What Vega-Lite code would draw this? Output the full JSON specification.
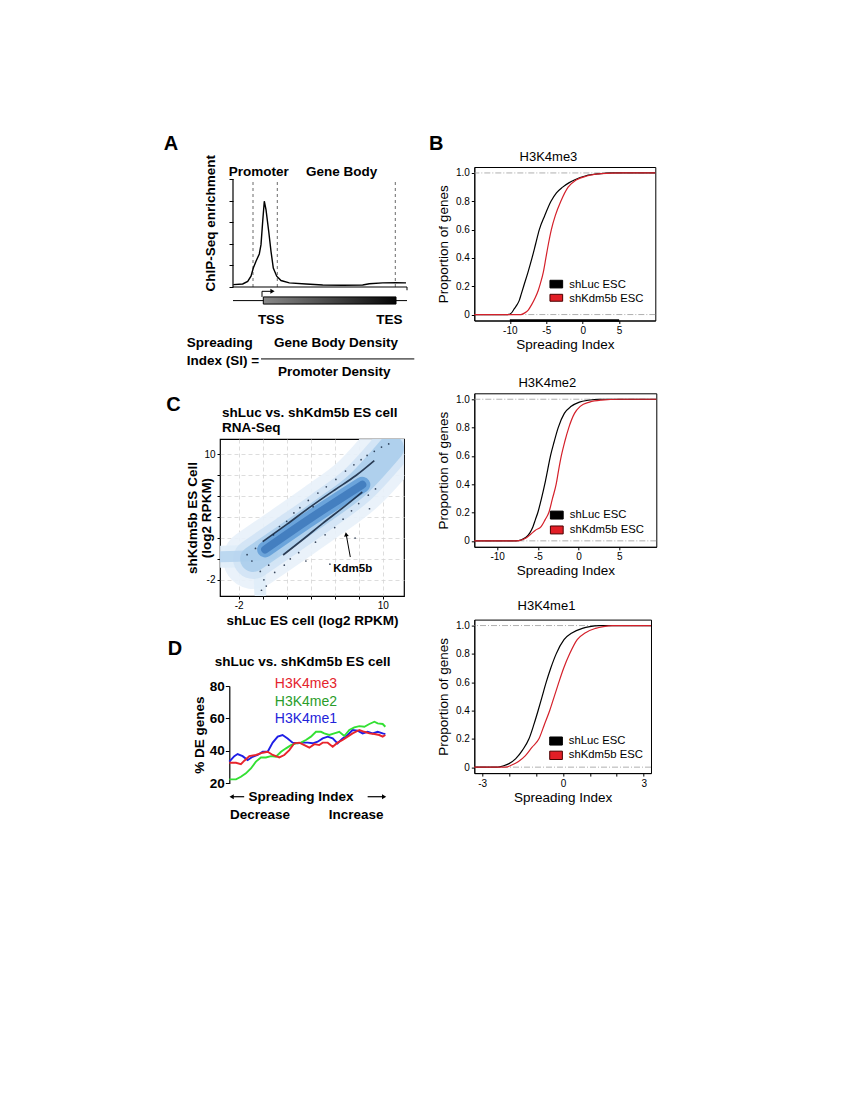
{
"$schema": "https://vega.github.io/schema/vega-lite/v6.json",
"background": "white",
"padding": {"left": 163, "top": 133, "right": 10, "bottom": 10},
"config": {
 "font": "Liberation Sans",
 "view": {"stroke": null},
 "axis": {"grid": false, "labelOverlap": false, "labelColor": "#000", "titleColor": "#000", "tickColor": "#000", "domainColor": "#000", "labelFont": "Liberation Sans", "titleFont": "Liberation Sans", "tickWidth": 1, "domainWidth": 1},
 "text": {"color": "#000", "font": "Liberation Sans"}
},
"datasets": {
 "a_profile": [
  {"pos":0.3,"enrich":0.11},{"pos":9.7,"enrich":0.14},{"pos":14.7,"enrich":0.26},{"pos":18,"enrich":0.5},{"pos":20.3,"enrich":0.88},{"pos":23,"enrich":1.19},{"pos":26.3,"enrich":1.53},{"pos":28,"enrich":1.96},{"pos":29.7,"enrich":3.04},{"pos":31.3,"enrich":3.97},{"pos":33,"enrich":3.58},{"pos":35.7,"enrich":2.58},{"pos":38,"enrich":1.65},{"pos":40.3,"enrich":0.88},{"pos":43.7,"enrich":0.5},{"pos":48,"enrich":0.3},{"pos":56.3,"enrich":0.19},{"pos":73,"enrich":0.14},{"pos":89.7,"enrich":0.09},{"pos":109.7,"enrich":0.08},{"pos":129.7,"enrich":0.09},{"pos":136.3,"enrich":0.15},{"pos":149.7,"enrich":0.19},{"pos":163,"enrich":0.2},{"pos":173,"enrich":0.19}
 ],
 "a_bounds": [{"pos":20},{"pos":44.3},{"pos":162.3}],
 "b_cdf": [
  {"panel":"H3K4me3","sample":"shLuc ESC","si":-14.87,"prop":0},{"panel":"H3K4me3","sample":"shLuc ESC","si":-10.3,"prop":0},{"panel":"H3K4me3","sample":"shLuc ESC","si":-9.8,"prop":0.01},{"panel":"H3K4me3","sample":"shLuc ESC","si":-9.4,"prop":0.04},{"panel":"H3K4me3","sample":"shLuc ESC","si":-9.0,"prop":0.07},{"panel":"H3K4me3","sample":"shLuc ESC","si":-8.7,"prop":0.1},{"panel":"H3K4me3","sample":"shLuc ESC","si":-8.4,"prop":0.15},{"panel":"H3K4me3","sample":"shLuc ESC","si":-8.1,"prop":0.2},{"panel":"H3K4me3","sample":"shLuc ESC","si":-7.5,"prop":0.3},{"panel":"H3K4me3","sample":"shLuc ESC","si":-6.95,"prop":0.4},{"panel":"H3K4me3","sample":"shLuc ESC","si":-6.45,"prop":0.5},{"panel":"H3K4me3","sample":"shLuc ESC","si":-5.95,"prop":0.6},{"panel":"H3K4me3","sample":"shLuc ESC","si":-5.2,"prop":0.7},{"panel":"H3K4me3","sample":"shLuc ESC","si":-4.35,"prop":0.8},{"panel":"H3K4me3","sample":"shLuc ESC","si":-3.6,"prop":0.86},{"panel":"H3K4me3","sample":"shLuc ESC","si":-2.75,"prop":0.9},{"panel":"H3K4me3","sample":"shLuc ESC","si":-1.9,"prop":0.93},{"panel":"H3K4me3","sample":"shLuc ESC","si":-1.15,"prop":0.95},{"panel":"H3K4me3","sample":"shLuc ESC","si":0.45,"prop":0.98},{"panel":"H3K4me3","sample":"shLuc ESC","si":2.2,"prop":0.994},{"panel":"H3K4me3","sample":"shLuc ESC","si":4.1,"prop":1},{"panel":"H3K4me3","sample":"shLuc ESC","si":9.96,"prop":1},
  {"panel":"H3K4me3","sample":"shKdm5b ESC","si":-14.87,"prop":0},{"panel":"H3K4me3","sample":"shKdm5b ESC","si":-8.5,"prop":0},{"panel":"H3K4me3","sample":"shKdm5b ESC","si":-8.0,"prop":0.01},{"panel":"H3K4me3","sample":"shKdm5b ESC","si":-7.5,"prop":0.03},{"panel":"H3K4me3","sample":"shKdm5b ESC","si":-7.0,"prop":0.07},{"panel":"H3K4me3","sample":"shKdm5b ESC","si":-6.5,"prop":0.12},{"panel":"H3K4me3","sample":"shKdm5b ESC","si":-6.1,"prop":0.17},{"panel":"H3K4me3","sample":"shKdm5b ESC","si":-5.8,"prop":0.22},{"panel":"H3K4me3","sample":"shKdm5b ESC","si":-5.4,"prop":0.3},{"panel":"H3K4me3","sample":"shKdm5b ESC","si":-5.05,"prop":0.4},{"panel":"H3K4me3","sample":"shKdm5b ESC","si":-4.7,"prop":0.5},{"panel":"H3K4me3","sample":"shKdm5b ESC","si":-4.3,"prop":0.6},{"panel":"H3K4me3","sample":"shKdm5b ESC","si":-3.75,"prop":0.7},{"panel":"H3K4me3","sample":"shKdm5b ESC","si":-3.0,"prop":0.8},{"panel":"H3K4me3","sample":"shKdm5b ESC","si":-2.0,"prop":0.9},{"panel":"H3K4me3","sample":"shKdm5b ESC","si":-0.9,"prop":0.95},{"panel":"H3K4me3","sample":"shKdm5b ESC","si":0.7,"prop":0.98},{"panel":"H3K4me3","sample":"shKdm5b ESC","si":2.5,"prop":0.995},{"panel":"H3K4me3","sample":"shKdm5b ESC","si":5.5,"prop":1},{"panel":"H3K4me3","sample":"shKdm5b ESC","si":9.96,"prop":1},
  {"panel":"H3K4me2","sample":"shLuc ESC","si":-12.8,"prop":0},{"panel":"H3K4me2","sample":"shLuc ESC","si":-7.7,"prop":0},{"panel":"H3K4me2","sample":"shLuc ESC","si":-7.0,"prop":0.008},{"panel":"H3K4me2","sample":"shLuc ESC","si":-6.45,"prop":0.025},{"panel":"H3K4me2","sample":"shLuc ESC","si":-6.0,"prop":0.055},{"panel":"H3K4me2","sample":"shLuc ESC","si":-5.6,"prop":0.1},{"panel":"H3K4me2","sample":"shLuc ESC","si":-5.3,"prop":0.15},{"panel":"H3K4me2","sample":"shLuc ESC","si":-5.0,"prop":0.2},{"panel":"H3K4me2","sample":"shLuc ESC","si":-4.55,"prop":0.3},{"panel":"H3K4me2","sample":"shLuc ESC","si":-4.15,"prop":0.4},{"panel":"H3K4me2","sample":"shLuc ESC","si":-3.8,"prop":0.5},{"panel":"H3K4me2","sample":"shLuc ESC","si":-3.45,"prop":0.6},{"panel":"H3K4me2","sample":"shLuc ESC","si":-3.0,"prop":0.7},{"panel":"H3K4me2","sample":"shLuc ESC","si":-2.5,"prop":0.8},{"panel":"H3K4me2","sample":"shLuc ESC","si":-1.75,"prop":0.9},{"panel":"H3K4me2","sample":"shLuc ESC","si":-0.9,"prop":0.95},{"panel":"H3K4me2","sample":"shLuc ESC","si":0.1,"prop":0.98},{"panel":"H3K4me2","sample":"shLuc ESC","si":1.2,"prop":0.993},{"panel":"H3K4me2","sample":"shLuc ESC","si":2.6,"prop":1},{"panel":"H3K4me2","sample":"shLuc ESC","si":9.54,"prop":1},
  {"panel":"H3K4me2","sample":"shKdm5b ESC","si":-12.8,"prop":0},{"panel":"H3K4me2","sample":"shKdm5b ESC","si":-7.6,"prop":0},{"panel":"H3K4me2","sample":"shKdm5b ESC","si":-7.0,"prop":0.006},{"panel":"H3K4me2","sample":"shKdm5b ESC","si":-6.45,"prop":0.02},{"panel":"H3K4me2","sample":"shKdm5b ESC","si":-5.9,"prop":0.045},{"panel":"H3K4me2","sample":"shKdm5b ESC","si":-5.3,"prop":0.075},{"panel":"H3K4me2","sample":"shKdm5b ESC","si":-4.6,"prop":0.1},{"panel":"H3K4me2","sample":"shKdm5b ESC","si":-4.1,"prop":0.15},{"panel":"H3K4me2","sample":"shKdm5b ESC","si":-3.65,"prop":0.2},{"panel":"H3K4me2","sample":"shKdm5b ESC","si":-3.2,"prop":0.3},{"panel":"H3K4me2","sample":"shKdm5b ESC","si":-2.75,"prop":0.4},{"panel":"H3K4me2","sample":"shKdm5b ESC","si":-2.45,"prop":0.5},{"panel":"H3K4me2","sample":"shKdm5b ESC","si":-2.12,"prop":0.6},{"panel":"H3K4me2","sample":"shKdm5b ESC","si":-1.7,"prop":0.7},{"panel":"H3K4me2","sample":"shKdm5b ESC","si":-1.2,"prop":0.8},{"panel":"H3K4me2","sample":"shKdm5b ESC","si":-0.5,"prop":0.9},{"panel":"H3K4me2","sample":"shKdm5b ESC","si":0.2,"prop":0.95},{"panel":"H3K4me2","sample":"shKdm5b ESC","si":1.35,"prop":0.98},{"panel":"H3K4me2","sample":"shKdm5b ESC","si":2.8,"prop":0.994},{"panel":"H3K4me2","sample":"shKdm5b ESC","si":5.0,"prop":1},{"panel":"H3K4me2","sample":"shKdm5b ESC","si":9.54,"prop":1},
  {"panel":"H3K4me1","sample":"shLuc ESC","si":-3.29,"prop":0},{"panel":"H3K4me1","sample":"shLuc ESC","si":-2.43,"prop":0},{"panel":"H3K4me1","sample":"shLuc ESC","si":-2.2,"prop":0.01},{"panel":"H3K4me1","sample":"shLuc ESC","si":-2.0,"prop":0.025},{"panel":"H3K4me1","sample":"shLuc ESC","si":-1.75,"prop":0.06},{"panel":"H3K4me1","sample":"shLuc ESC","si":-1.5,"prop":0.12},{"panel":"H3K4me1","sample":"shLuc ESC","si":-1.26,"prop":0.2},{"panel":"H3K4me1","sample":"shLuc ESC","si":-1.08,"prop":0.3},{"panel":"H3K4me1","sample":"shLuc ESC","si":-0.92,"prop":0.4},{"panel":"H3K4me1","sample":"shLuc ESC","si":-0.77,"prop":0.5},{"panel":"H3K4me1","sample":"shLuc ESC","si":-0.62,"prop":0.6},{"panel":"H3K4me1","sample":"shLuc ESC","si":-0.45,"prop":0.7},{"panel":"H3K4me1","sample":"shLuc ESC","si":-0.25,"prop":0.8},{"panel":"H3K4me1","sample":"shLuc ESC","si":0.04,"prop":0.9},{"panel":"H3K4me1","sample":"shLuc ESC","si":0.35,"prop":0.95},{"panel":"H3K4me1","sample":"shLuc ESC","si":0.72,"prop":0.98},{"panel":"H3K4me1","sample":"shLuc ESC","si":1.0,"prop":0.993},{"panel":"H3K4me1","sample":"shLuc ESC","si":1.35,"prop":1},{"panel":"H3K4me1","sample":"shLuc ESC","si":3.27,"prop":1},
  {"panel":"H3K4me1","sample":"shKdm5b ESC","si":-3.29,"prop":0},{"panel":"H3K4me1","sample":"shKdm5b ESC","si":-2.12,"prop":0},{"panel":"H3K4me1","sample":"shKdm5b ESC","si":-1.9,"prop":0.015},{"panel":"H3K4me1","sample":"shKdm5b ESC","si":-1.65,"prop":0.04},{"panel":"H3K4me1","sample":"shKdm5b ESC","si":-1.4,"prop":0.08},{"panel":"H3K4me1","sample":"shKdm5b ESC","si":-1.15,"prop":0.14},{"panel":"H3K4me1","sample":"shKdm5b ESC","si":-0.89,"prop":0.2},{"panel":"H3K4me1","sample":"shKdm5b ESC","si":-0.69,"prop":0.3},{"panel":"H3K4me1","sample":"shKdm5b ESC","si":-0.49,"prop":0.4},{"panel":"H3K4me1","sample":"shKdm5b ESC","si":-0.32,"prop":0.5},{"panel":"H3K4me1","sample":"shKdm5b ESC","si":-0.15,"prop":0.6},{"panel":"H3K4me1","sample":"shKdm5b ESC","si":0.03,"prop":0.7},{"panel":"H3K4me1","sample":"shKdm5b ESC","si":0.25,"prop":0.8},{"panel":"H3K4me1","sample":"shKdm5b ESC","si":0.53,"prop":0.9},{"panel":"H3K4me1","sample":"shKdm5b ESC","si":0.84,"prop":0.95},{"panel":"H3K4me1","sample":"shKdm5b ESC","si":1.21,"prop":0.98},{"panel":"H3K4me1","sample":"shKdm5b ESC","si":1.5,"prop":0.993},{"panel":"H3K4me1","sample":"shKdm5b ESC","si":1.83,"prop":1},{"panel":"H3K4me1","sample":"shKdm5b ESC","si":3.27,"prop":1}
 ],
 "c_density": [
  {"band":"cloud","x":-0.8,"y":0.0},{"band":"cloud","x":2,"y":2.2},{"band":"cloud","x":5,"y":4.6},{"band":"cloud","x":8,"y":7.2},{"band":"cloud","x":10.7,"y":10.6},
  {"band":"core","x":0.2,"y":0.9},{"band":"core","x":4,"y":3.9},{"band":"core","x":8.3,"y":7.1},
  {"band":"floor","x":-3.5,"y":0.2},{"band":"floor","x":-1,"y":0.3},{"band":"floor","x":0.8,"y":0.5},
  {"band":"tail","x":-0.3,"y":0.3},{"band":"tail","x":-0.2,"y":-3.3}
 ],
 "c_streaks": [
  {"streak":"upper","x":0,"y":1.65},{"streak":"upper","x":2,"y":3.3},{"streak":"upper","x":4,"y":5.0},{"streak":"upper","x":6,"y":6.6},{"streak":"upper","x":7.8,"y":8.0},{"streak":"upper","x":9.3,"y":9.4},
  {"streak":"lower","x":1.7,"y":0.37},{"streak":"lower","x":3.5,"y":2.0},{"streak":"lower","x":5,"y":3.4},{"streak":"lower","x":6.8,"y":5.0},{"streak":"lower","x":8.3,"y":6.4}
 ],
 "c_points": [
  {"x":-1.3,"y":0.4},{"x":-0.9,"y":-0.2},{"x":-0.6,"y":1.0},{"x":-0.2,"y":-1.2},{"x":0.1,"y":-2.0},{"x":0.3,"y":-2.6},{"x":-0.1,"y":-3.0},{"x":0.5,"y":-0.6},{"x":0.9,"y":2.3},{"x":1.4,"y":3.1},{"x":2.0,"y":3.6},{"x":2.6,"y":4.4},{"x":3.1,"y":4.9},{"x":3.8,"y":5.6},{"x":4.6,"y":6.3},{"x":5.3,"y":6.9},{"x":6.1,"y":7.6},{"x":6.9,"y":8.4},{"x":7.6,"y":9.0},{"x":8.2,"y":9.5},{"x":8.7,"y":9.9},{"x":9.3,"y":10.3},{"x":9.9,"y":10.7},{"x":10.5,"y":11.0},{"x":2.3,"y":0.0},{"x":3.0,"y":0.6},{"x":3.6,"y":-0.2},{"x":4.4,"y":1.6},{"x":5.2,"y":2.3},{"x":6.0,"y":3.0},{"x":6.7,"y":3.8},{"x":7.4,"y":4.6},{"x":8.0,"y":5.3},{"x":8.8,"y":6.1},{"x":9.4,"y":6.7},{"x":8.9,"y":4.8},{"x":7.7,"y":2.0},{"x":5.6,"y":-0.5},{"x":4.2,"y":5.0},{"x":1.0,"y":-1.3},{"x":1.8,"y":-0.6}
 ],
 "d_lines": [
  {"series":"H3K4me1","bin":0,"pct":33.4},{"series":"H3K4me1","bin":3.2,"pct":36.8},{"series":"H3K4me1","bin":5.3,"pct":38.1},{"series":"H3K4me1","bin":8.5,"pct":36.8},{"series":"H3K4me1","bin":11.7,"pct":34.4},{"series":"H3K4me1","bin":14.9,"pct":36.4},{"series":"H3K4me1","bin":18.1,"pct":37.5},{"series":"H3K4me1","bin":21.3,"pct":39.5},{"series":"H3K4me1","bin":24.5,"pct":39.5},{"series":"H3K4me1","bin":27.7,"pct":45.1},{"series":"H3K4me1","bin":30.9,"pct":48.8},{"series":"H3K4me1","bin":34,"pct":49.8},{"series":"H3K4me1","bin":37.2,"pct":47.7},{"series":"H3K4me1","bin":40.4,"pct":45.1},{"series":"H3K4me1","bin":43.6,"pct":44.7},{"series":"H3K4me1","bin":46.8,"pct":45.1},{"series":"H3K4me1","bin":50,"pct":45.1},{"series":"H3K4me1","bin":53.2,"pct":44.7},{"series":"H3K4me1","bin":56.4,"pct":45.7},{"series":"H3K4me1","bin":59.6,"pct":47.7},{"series":"H3K4me1","bin":62.8,"pct":48.8},{"series":"H3K4me1","bin":66,"pct":47.7},{"series":"H3K4me1","bin":69.1,"pct":44.7},{"series":"H3K4me1","bin":72.3,"pct":47.7},{"series":"H3K4me1","bin":75.5,"pct":49.8},{"series":"H3K4me1","bin":78.7,"pct":52.9},{"series":"H3K4me1","bin":81.9,"pct":52.5},{"series":"H3K4me1","bin":85.1,"pct":50.8},{"series":"H3K4me1","bin":88.3,"pct":51.8},{"series":"H3K4me1","bin":91.5,"pct":50.8},{"series":"H3K4me1","bin":94.7,"pct":51.8},{"series":"H3K4me1","bin":97.9,"pct":50.8},{"series":"H3K4me1","bin":99.6,"pct":50.4},
  {"series":"H3K4me2","bin":0,"pct":22.5},{"series":"H3K4me2","bin":4.3,"pct":22.5},{"series":"H3K4me2","bin":7.4,"pct":24.1},{"series":"H3K4me2","bin":10.6,"pct":26.2},{"series":"H3K4me2","bin":13.8,"pct":29.2},{"series":"H3K4me2","bin":17,"pct":33.4},{"series":"H3K4me2","bin":20.2,"pct":36},{"series":"H3K4me2","bin":23.4,"pct":36},{"series":"H3K4me2","bin":26.6,"pct":36.8},{"series":"H3K4me2","bin":29.8,"pct":36.4},{"series":"H3K4me2","bin":33,"pct":39.5},{"series":"H3K4me2","bin":36.2,"pct":41.6},{"series":"H3K4me2","bin":39.4,"pct":43.6},{"series":"H3K4me2","bin":42.6,"pct":44.7},{"series":"H3K4me2","bin":45.7,"pct":45.1},{"series":"H3K4me2","bin":48.9,"pct":46.7},{"series":"H3K4me2","bin":52.1,"pct":48.8},{"series":"H3K4me2","bin":55.3,"pct":51.8},{"series":"H3K4me2","bin":58.5,"pct":51.8},{"series":"H3K4me2","bin":60.6,"pct":50.8},{"series":"H3K4me2","bin":63.8,"pct":49.8},{"series":"H3K4me2","bin":67,"pct":50.8},{"series":"H3K4me2","bin":70.2,"pct":51.8},{"series":"H3K4me2","bin":73.4,"pct":49.2},{"series":"H3K4me2","bin":76.6,"pct":52.9},{"series":"H3K4me2","bin":79.8,"pct":54.5},{"series":"H3K4me2","bin":83,"pct":55.3},{"series":"H3K4me2","bin":86.2,"pct":54.9},{"series":"H3K4me2","bin":89.4,"pct":56.6},{"series":"H3K4me2","bin":92.6,"pct":58},{"series":"H3K4me2","bin":94.7,"pct":57},{"series":"H3K4me2","bin":97.9,"pct":56.6},{"series":"H3K4me2","bin":99.6,"pct":54.9},
  {"series":"H3K4me3","bin":0,"pct":32.7},{"series":"H3K4me3","bin":4.3,"pct":32.7},{"series":"H3K4me3","bin":7.4,"pct":31.9},{"series":"H3K4me3","bin":9.6,"pct":34},{"series":"H3K4me3","bin":12.8,"pct":36.8},{"series":"H3K4me3","bin":17,"pct":37.5},{"series":"H3K4me3","bin":21.3,"pct":38.9},{"series":"H3K4me3","bin":24.5,"pct":39.5},{"series":"H3K4me3","bin":27.7,"pct":37.5},{"series":"H3K4me3","bin":31.9,"pct":36},{"series":"H3K4me3","bin":35.1,"pct":37.5},{"series":"H3K4me3","bin":38.3,"pct":40.5},{"series":"H3K4me3","bin":41.5,"pct":44.7},{"series":"H3K4me3","bin":44.7,"pct":45.1},{"series":"H3K4me3","bin":47.9,"pct":43.6},{"series":"H3K4me3","bin":51.1,"pct":42},{"series":"H3K4me3","bin":54.3,"pct":44.2},{"series":"H3K4me3","bin":57.4,"pct":43.6},{"series":"H3K4me3","bin":59.6,"pct":45.1},{"series":"H3K4me3","bin":62.8,"pct":45.1},{"series":"H3K4me3","bin":66,"pct":42.6},{"series":"H3K4me3","bin":69.1,"pct":45.1},{"series":"H3K4me3","bin":72.3,"pct":46.7},{"series":"H3K4me3","bin":75.5,"pct":48.8},{"series":"H3K4me3","bin":78.7,"pct":50.8},{"series":"H3K4me3","bin":83,"pct":52.9},{"series":"H3K4me3","bin":86.2,"pct":51.8},{"series":"H3K4me3","bin":89.4,"pct":50.8},{"series":"H3K4me3","bin":92.6,"pct":50.4},{"series":"H3K4me3","bin":95.7,"pct":49.8},{"series":"H3K4me3","bin":97.9,"pct":48.8},{"series":"H3K4me3","bin":99.6,"pct":49.8}
 ]
},
"bounds": "flush",
"spacing": 254.3,
"resolve": {"scale": {"color": "independent"}},
"hconcat": [
 {"bounds": "flush", "spacing": 90, "resolve": {"scale": {"color": "independent"}}, "vconcat": [
  {"width": 184, "height": 181.6,
   "layer": [
    {"data": {"name": "a_bounds"}, "mark": {"type": "rule", "strokeDash": [3,3], "strokeWidth": 0.8, "color": "#444"},
     "encoding": {"x": {"field": "pos", "type": "quantitative", "axis": null}, "y": {"datum": 0}, "y2": {"datum": 5}}},
    {"data": {"name": "a_profile"}, "mark": {"type": "line", "color": "black", "strokeWidth": 1.4},
     "encoding": {"x": {"field": "pos", "type": "quantitative", "scale": {"domain": [-13, 171], "nice": false, "zero": false}, "axis": null},
                  "y": {"field": "enrich", "type": "quantitative", "scale": {"domain": [-2.852, 5.556], "nice": false, "zero": false}, "axis": {"values": [0,1,2,3,4,5], "tickCount": 20, "labels": false, "domain": false, "tickSize": 4, "offset": -13, "title": null}}}},
    {"data": {"values": [{}]}, "mark": {"type": "rule", "color": "black", "strokeWidth": 1.2}, "encoding": {"x": {"datum": 0, "axis": null}, "y": {"datum": 0}, "y2": {"datum": 5}}},
    {"data": {"values": [{}]}, "mark": {"type": "rule", "color": "black", "strokeWidth": 1.2}, "encoding": {"x": {"datum": 0, "axis": null}, "x2": {"datum": 174}, "y": {"datum": 0}}},
    {"data": {"values": [{}]}, "mark": {"type": "rule", "color": "black", "strokeWidth": 1}, "encoding": {"x": {"datum": 174, "axis": null}, "y": {"datum": 0}, "y2": {"datum": -0.15}}},
    {"data": {"values": [{}]}, "mark": {"type": "rule", "color": "black", "strokeWidth": 1}, "encoding": {"x": {"datum": 0, "axis": null}, "x2": {"datum": 174}, "y": {"datum": -0.63}}},
    {"data": {"values": [{}]}, "mark": {"type": "rect", "stroke": "black", "strokeWidth": 1, "fill": {"gradient": "linear", "x1": 0, "y1": 0, "x2": 1, "y2": 0, "stops": [{"offset": 0, "color": "#8a8a8a"}, {"offset": 1, "color": "#050505"}]}},
     "encoding": {"x": {"datum": 30.3, "axis": null}, "x2": {"datum": 163}, "y": {"datum": -0.46}, "y2": {"datum": -0.79}}},
    {"data": {"values": [{}]}, "mark": {"type": "rule", "color": "black", "strokeWidth": 1}, "encoding": {"x": {"datum": 29, "axis": null}, "y": {"datum": -0.46}, "y2": {"datum": -0.2}}},
    {"data": {"values": [{}]}, "mark": {"type": "rule", "color": "black", "strokeWidth": 1}, "encoding": {"x": {"datum": 29, "axis": null}, "x2": {"datum": 38}, "y": {"datum": -0.2}}},
    {"data": {"values": [{}]}, "mark": {"type": "point", "shape": "triangle-right", "filled": true, "size": 24, "color": "black", "opacity": 1}, "encoding": {"x": {"datum": 39.5, "axis": null}, "y": {"datum": -0.2}}},
    {"data": {"values": [{}]}, "mark": {"type": "rule", "color": "black", "strokeWidth": 1}, "encoding": {"x": {"datum": 28, "axis": null}, "x2": {"datum": 181.3}, "y": {"datum": -3.33}}},
    {"data": {"values": [{}]}, "mark": {"type": "text", "text": "A", "fontSize": 20, "fontWeight": "bold", "align": "center", "baseline": "middle"}, "encoding": {"x": {"datum": -62, "axis": null}, "y": {"datum": 6.606}}},
    {"data": {"values": [{}]}, "mark": {"type": "text", "text": "Promoter", "fontSize": 13.5, "fontWeight": "bold", "align": "center", "baseline": "middle"}, "encoding": {"x": {"datum": 25.7, "axis": null}, "y": {"datum": 5.32}}},
    {"data": {"values": [{}]}, "mark": {"type": "text", "text": "Gene Body", "fontSize": 13.5, "fontWeight": "bold", "align": "center", "baseline": "middle"}, "encoding": {"x": {"datum": 108.7, "axis": null}, "y": {"datum": 5.32}}},
    {"data": {"values": [{}]}, "mark": {"type": "text", "text": "ChIP-Seq enrichment", "fontSize": 13.5, "fontWeight": "bold", "align": "center", "baseline": "middle", "angle": 270}, "encoding": {"x": {"datum": -22, "axis": null}, "y": {"datum": 2.95}}},
    {"data": {"values": [{}]}, "mark": {"type": "text", "text": "TSS", "fontSize": 13.5, "fontWeight": "bold", "align": "center", "baseline": "middle"}, "encoding": {"x": {"datum": 38, "axis": null}, "y": {"datum": -1.51}}},
    {"data": {"values": [{}]}, "mark": {"type": "text", "text": "TES", "fontSize": 13.5, "fontWeight": "bold", "align": "center", "baseline": "middle"}, "encoding": {"x": {"datum": 156.3, "axis": null}, "y": {"datum": -1.51}}},
    {"data": {"values": [{}]}, "mark": {"type": "text", "text": "Spreading", "fontSize": 13.5, "fontWeight": "bold", "align": "left", "baseline": "middle"}, "encoding": {"x": {"datum": -46.3, "axis": null}, "y": {"datum": -2.61}}},
    {"data": {"values": [{}]}, "mark": {"type": "text", "text": "Index (SI) =", "fontSize": 13.5, "fontWeight": "bold", "align": "left", "baseline": "middle"}, "encoding": {"x": {"datum": -46.3, "axis": null}, "y": {"datum": -3.41}}},
    {"data": {"values": [{}]}, "mark": {"type": "text", "text": "Gene Body Density", "fontSize": 13.5, "fontWeight": "bold", "align": "center", "baseline": "middle"}, "encoding": {"x": {"datum": 103, "axis": null}, "y": {"datum": -2.61}}},
    {"data": {"values": [{}]}, "mark": {"type": "text", "text": "Promoter Density", "fontSize": 13.5, "fontWeight": "bold", "align": "center", "baseline": "middle"}, "encoding": {"x": {"datum": 101.3, "axis": null}, "y": {"datum": -3.94}}}
   ]},
  {"width": 184, "height": 157, "view": {"stroke": "black", "strokeWidth": 1.2},
   "layer": [
    {"data": {"name": "c_density"}, "transform": [{"filter": "datum.band == 'cloud'"}], "mark": {"type": "line", "strokeWidth": 60, "strokeCap": "round", "strokeJoin": "round", "color": "#e8f1fa", "opacity": 0.9, "clip": true, "interpolate": "monotone"},
     "encoding": {"x": {"field": "x", "type": "quantitative", "scale": {"domain": [-3.558, 11.775], "nice": false, "zero": false}, "axis": {"values": [-2,0,2,4,6,8,10], "tickCount": 20, "labelExpr": "datum.value == -2 ? '-2' : datum.value == 10 ? '10' : ''", "grid": true, "gridColor": "#d4d4d4", "gridDash": [4,3], "gridWidth": 0.8, "domain": false, "tickSize": 3, "labelPadding": 1, "labelFontSize": 10, "title": "shLuc ES cell (log2 RPKM)", "titleFontSize": 13.5, "titleFontWeight": "bold", "titlePadding": 3}},
                  "y": {"field": "y", "type": "quantitative", "scale": {"domain": [-3.55, 11.474], "nice": false, "zero": false}, "axis": {"values": [-2,0,2,4,6,8,10], "tickCount": 20, "labelExpr": "datum.value == -2 ? '-2' : datum.value == 10 ? '10' : ''", "grid": true, "gridColor": "#d4d4d4", "gridDash": [4,3], "gridWidth": 0.8, "domain": false, "tickSize": 3, "labelPadding": 2, "labelFontSize": 10, "title": ["shKdm5b ES Cell", "(log2 RPKM)"], "titleFontSize": 13.5, "titleFontWeight": "bold", "titleLineHeight": 14, "titlePadding": -10}}}},
    {"data": {"name": "c_density"}, "transform": [{"filter": "datum.band == 'floor'"}], "mark": {"type": "line", "strokeWidth": 22, "strokeCap": "round", "color": "#e0edf8", "opacity": 0.9, "clip": true, "interpolate": "monotone"},
     "encoding": {"x": {"field": "x", "type": "quantitative"}, "y": {"field": "y", "type": "quantitative"}}},
    {"data": {"name": "c_density"}, "transform": [{"filter": "datum.band == 'tail'"}], "mark": {"type": "line", "strokeWidth": 12, "strokeCap": "round", "color": "#e0edf8", "opacity": 0.9, "clip": true},
     "encoding": {"x": {"field": "x", "type": "quantitative"}, "y": {"field": "y", "type": "quantitative"}}},
    {"data": {"name": "c_density"}, "transform": [{"filter": "datum.band == 'cloud'"}], "mark": {"type": "line", "strokeWidth": 40, "strokeCap": "round", "strokeJoin": "round", "color": "#d0e3f4", "opacity": 0.85, "clip": true, "interpolate": "monotone"},
     "encoding": {"x": {"field": "x", "type": "quantitative"}, "y": {"field": "y", "type": "quantitative"}}},
    {"data": {"name": "c_density"}, "transform": [{"filter": "datum.band == 'floor'"}], "mark": {"type": "line", "strokeWidth": 11, "strokeCap": "round", "color": "#b5d4ee", "opacity": 0.85, "clip": true, "interpolate": "monotone"},
     "encoding": {"x": {"field": "x", "type": "quantitative"}, "y": {"field": "y", "type": "quantitative"}}},
    {"data": {"name": "c_density"}, "transform": [{"filter": "datum.band == 'cloud'"}], "mark": {"type": "line", "strokeWidth": 26, "strokeCap": "round", "strokeJoin": "round", "color": "#a8cceb", "opacity": 0.85, "clip": true, "interpolate": "monotone"},
     "encoding": {"x": {"field": "x", "type": "quantitative"}, "y": {"field": "y", "type": "quantitative"}}},
    {"data": {"name": "c_density"}, "transform": [{"filter": "datum.band == 'core'"}], "mark": {"type": "line", "strokeWidth": 16, "strokeCap": "round", "strokeJoin": "round", "color": "#5f9cd7", "opacity": 0.85, "clip": true, "interpolate": "monotone"},
     "encoding": {"x": {"field": "x", "type": "quantitative"}, "y": {"field": "y", "type": "quantitative"}}},
    {"data": {"name": "c_density"}, "transform": [{"filter": "datum.band == 'core'"}], "mark": {"type": "line", "strokeWidth": 8, "strokeCap": "round", "strokeJoin": "round", "color": "#3b75b9", "opacity": 0.8, "clip": true, "interpolate": "monotone"},
     "encoding": {"x": {"field": "x", "type": "quantitative"}, "y": {"field": "y", "type": "quantitative"}}},
    {"data": {"name": "c_streaks"}, "mark": {"type": "line", "strokeWidth": 1.7, "color": "#10213a", "opacity": 0.85, "clip": true, "interpolate": "monotone"},
     "encoding": {"x": {"field": "x", "type": "quantitative"}, "y": {"field": "y", "type": "quantitative"}, "detail": {"field": "streak", "type": "nominal"}}},
    {"data": {"name": "c_points"}, "mark": {"type": "circle", "size": 3, "color": "#10213a", "opacity": 0.8, "clip": true},
     "encoding": {"x": {"field": "x", "type": "quantitative"}, "y": {"field": "y", "type": "quantitative"}}},
    {"data": {"values": [{}]}, "mark": {"type": "rule", "color": "black", "strokeWidth": 1}, "encoding": {"x": {"datum": 7.3}, "x2": {"datum": 6.98}, "y": {"datum": 0.18}, "y2": {"datum": 2.2}}},
    {"data": {"values": [{}]}, "mark": {"type": "point", "shape": "triangle-up", "filled": true, "size": 22, "angle": -9, "color": "black", "opacity": 1}, "encoding": {"x": {"datum": 6.95}, "y": {"datum": 2.35}}},
    {"data": {"values": [{}]}, "mark": {"type": "text", "text": "Kdm5b", "fontSize": 11.5, "fontWeight": "bold", "align": "center", "baseline": "middle"}, "encoding": {"x": {"datum": 7.5}, "y": {"datum": -0.94}}},
    {"data": {"values": [{}]}, "mark": {"type": "text", "text": "shLuc vs. shKdm5b ES cell", "fontSize": 13.5, "fontWeight": "bold", "align": "left", "baseline": "middle"}, "encoding": {"x": {"datum": -3.39}, "y": {"datum": 13.92}}},
    {"data": {"values": [{}]}, "mark": {"type": "text", "text": "RNA-Seq", "fontSize": 13.5, "fontWeight": "bold", "align": "left", "baseline": "middle"}, "encoding": {"x": {"datum": -3.39}, "y": {"datum": 12.49}}},
    {"data": {"values": [{}]}, "mark": {"type": "text", "text": "C", "fontSize": 20, "fontWeight": "bold", "align": "center", "baseline": "middle"}, "encoding": {"x": {"datum": -7.43}, "y": {"datum": 14.73}}}
   ]},
  {"width": 184, "height": 97.4,
   "layer": [
    {"data": {"name": "d_lines"}, "mark": {"type": "line", "strokeWidth": 1.9},
     "encoding": {"x": {"field": "bin", "type": "quantitative", "scale": {"domain": [-5.93, 111.5], "nice": false, "zero": false}, "axis": null},
                  "y": {"field": "pct", "type": "quantitative", "scale": {"domain": [20, 80], "nice": false, "zero": false}, "axis": {"values": [20,40,60,80], "tickCount": 20, "tickSize": 4, "labelPadding": 1, "labelFontSize": 13.5, "labelFontWeight": "bold", "title": "% DE genes", "titleFontSize": 13.5, "titleFontWeight": "bold", "titlePadding": 3, "offset": -9.3, "domainWidth": 1.2}},
                  "color": {"field": "series", "type": "nominal", "scale": {"domain": ["H3K4me1", "H3K4me2", "H3K4me3"], "range": ["#1f1fe6", "#33e033", "#e8242c"]}, "legend": null}}},
    {"data": {"values": [{}]}, "mark": {"type": "text", "text": "D", "fontSize": 20, "fontWeight": "bold", "align": "center", "baseline": "middle"}, "encoding": {"x": {"datum": -34.7, "axis": null}, "y": {"datum": 102.7}}},
    {"data": {"values": [{}]}, "mark": {"type": "text", "text": "shLuc vs. shKdm5b ES cell", "fontSize": 13.5, "fontWeight": "bold", "align": "center", "baseline": "middle"}, "encoding": {"x": {"datum": 46.8, "axis": null}, "y": {"datum": 95}}},
    {"data": {"values": [{}]}, "mark": {"type": "text", "text": "H3K4me3", "fontSize": 14, "color": "#e4232b", "align": "center", "baseline": "middle"}, "encoding": {"x": {"datum": 48.9, "axis": null}, "y": {"datum": 81.4}}},
    {"data": {"values": [{}]}, "mark": {"type": "text", "text": "H3K4me2", "fontSize": 14, "color": "#2a9d2a", "align": "center", "baseline": "middle"}, "encoding": {"x": {"datum": 48.9, "axis": null}, "y": {"datum": 70.3}}},
    {"data": {"values": [{}]}, "mark": {"type": "text", "text": "H3K4me1", "fontSize": 14, "color": "#2323d9", "align": "center", "baseline": "middle"}, "encoding": {"x": {"datum": 48.9, "axis": null}, "y": {"datum": 59.9}}},
    {"data": {"values": [{}]}, "mark": {"type": "rule", "color": "black", "strokeWidth": 1.2}, "encoding": {"x": {"datum": 2, "axis": null}, "x2": {"datum": 9.5}, "y": {"datum": 11.8}}},
    {"data": {"values": [{}]}, "mark": {"type": "point", "shape": "triangle-left", "filled": true, "size": 24, "color": "black", "opacity": 1}, "encoding": {"x": {"datum": 1.5, "axis": null}, "y": {"datum": 11.8}}},
    {"data": {"values": [{}]}, "mark": {"type": "rule", "color": "black", "strokeWidth": 1.2}, "encoding": {"x": {"datum": 88.3, "axis": null}, "x2": {"datum": 98.3}, "y": {"datum": 11.8}}},
    {"data": {"values": [{}]}, "mark": {"type": "point", "shape": "triangle-right", "filled": true, "size": 24, "color": "black", "opacity": 1}, "encoding": {"x": {"datum": 98.8, "axis": null}, "y": {"datum": 11.8}}},
    {"data": {"values": [{}]}, "mark": {"type": "text", "text": "Spreading Index", "fontSize": 13.5, "fontWeight": "bold", "align": "center", "baseline": "middle"}, "encoding": {"x": {"datum": 45.7, "axis": null}, "y": {"datum": 11.8}}},
    {"data": {"values": [{}]}, "mark": {"type": "text", "text": "Decrease", "fontSize": 13.5, "fontWeight": "bold", "align": "center", "baseline": "middle"}, "encoding": {"x": {"datum": 19.6, "axis": null}, "y": {"datum": 0.53}}},
    {"data": {"values": [{}]}, "mark": {"type": "text", "text": "Increase", "fontSize": 13.5, "fontWeight": "bold", "align": "center", "baseline": "middle"}, "encoding": {"x": {"datum": 80.9, "axis": null}, "y": {"datum": 0.53}}}
   ]}
 ]},
 {"bounds": "flush", "spacing": 72.3, "vconcat": [
  {"width": 181, "height": 153.5, "view": {"stroke": "black", "strokeWidth": 1},
   "layer": [
    {"data": {"values": [{}]}, "mark": {"type": "rule", "color": "#9a9a9a", "strokeDash": [6,2,1,2], "strokeWidth": 0.8}, "encoding": {"y": {"datum": 0}}},
    {"data": {"values": [{}]}, "mark": {"type": "rule", "color": "#9a9a9a", "strokeDash": [6,2,1,2], "strokeWidth": 0.8}, "encoding": {"y": {"datum": 1}}},
    {"data": {"name": "b_cdf"}, "transform": [{"filter": "datum.panel == 'H3K4me3'"}], "mark": {"type": "line", "strokeWidth": 1.2, "interpolate": "monotone"},
     "encoding": {"x": {"field": "si", "type": "quantitative", "scale": {"domain": [-14.87, 9.96], "nice": false, "zero": false}, "axis": {"values": [-10,-5,0,5], "tickCount": 20, "labelExpr": "datum.value < 0 ? '-' + abs(datum.value) : '' + datum.value", "tickSize": 3, "labelPadding": 2, "labelFontSize": 10, "title": "Spreading Index", "titleFontSize": 13.5, "titleFontWeight": "normal", "titlePadding": 2}},
                  "y": {"field": "prop", "type": "quantitative", "scale": {"domain": [-0.042, 1.042], "nice": false, "zero": false}, "axis": {"values": [0,0.2,0.4,0.6,0.8,1], "tickCount": 20, "labelExpr": "datum.value == 0 ? '0' : format(datum.value, '.1f')", "tickSize": 3, "labelPadding": 2, "labelFontSize": 10, "title": "Proportion of genes", "titleFontSize": 13.5, "titleFontWeight": "normal", "titlePadding": 5}},
                  "color": {"field": "sample", "type": "nominal", "scale": {"domain": ["shLuc ESC", "shKdm5b ESC"], "range": ["#000000", "#d4202a"]}, "legend": null}}},
    {"data": {"values": [{}]}, "mark": {"type": "rule", "color": "black", "strokeWidth": 2.5}, "encoding": {"x": {"datum": -10}, "x2": {"datum": 5}, "y": {"datum": -0.042}}},
    {"data": {"values": [{}]}, "mark": {"type": "rect", "fill": "#000000", "stroke": "#000000", "strokeWidth": 1}, "encoding": {"x": {"datum": -4.49}, "x2": {"datum": -2.75}, "y": {"datum": 0.242}, "y2": {"datum": 0.188}}},
    {"data": {"values": [{}]}, "mark": {"type": "rect", "fill": "#e21e26", "stroke": "#4a0000", "strokeWidth": 1}, "encoding": {"x": {"datum": -4.49}, "x2": {"datum": -2.75}, "y": {"datum": 0.143}, "y2": {"datum": 0.094}}},
    {"data": {"values": [{}]}, "mark": {"type": "text", "text": "shLuc ESC", "fontSize": 11.3, "align": "left", "baseline": "middle"}, "encoding": {"x": {"datum": -1.84}, "y": {"datum": 0.212}}},
    {"data": {"values": [{}]}, "mark": {"type": "text", "text": "shKdm5b ESC", "fontSize": 11.3, "align": "left", "baseline": "middle"}, "encoding": {"x": {"datum": -1.84}, "y": {"datum": 0.113}}},
    {"data": {"values": [{}]}, "mark": {"type": "text", "text": "H3K4me3", "fontSize": 13, "align": "center", "baseline": "middle"}, "encoding": {"x": {"datum": -4.7}, "y": {"datum": 1.111}}},
    {"data": {"values": [{}]}, "mark": {"type": "text", "text": "B", "fontSize": 20, "fontWeight": "bold", "align": "center", "baseline": "middle"}, "encoding": {"x": {"datum": -20.1}, "y": {"datum": 1.2027}}}
   ]},
  {"width": 182, "height": 153.5, "view": {"stroke": "black", "strokeWidth": 1},
   "layer": [
    {"data": {"values": [{}]}, "mark": {"type": "rule", "color": "#9a9a9a", "strokeDash": [6,2,1,2], "strokeWidth": 0.8}, "encoding": {"y": {"datum": 0}}},
    {"data": {"values": [{}]}, "mark": {"type": "rule", "color": "#9a9a9a", "strokeDash": [6,2,1,2], "strokeWidth": 0.8}, "encoding": {"y": {"datum": 1}}},
    {"data": {"name": "b_cdf"}, "transform": [{"filter": "datum.panel == 'H3K4me2'"}], "mark": {"type": "line", "strokeWidth": 1.2, "interpolate": "monotone"},
     "encoding": {"x": {"field": "si", "type": "quantitative", "scale": {"domain": [-12.8, 9.54], "nice": false, "zero": false}, "axis": {"values": [-10,-5,0,5], "tickCount": 20, "labelExpr": "datum.value < 0 ? '-' + abs(datum.value) : '' + datum.value", "tickSize": 3, "labelPadding": 2, "labelFontSize": 10, "title": "Spreading Index", "titleFontSize": 13.5, "titleFontWeight": "normal", "titlePadding": 2}},
                  "y": {"field": "prop", "type": "quantitative", "scale": {"domain": [-0.042, 1.042], "nice": false, "zero": false}, "axis": {"values": [0,0.2,0.4,0.6,0.8,1], "tickCount": 20, "labelExpr": "datum.value == 0 ? '0' : format(datum.value, '.1f')", "tickSize": 3, "labelPadding": 2, "labelFontSize": 10, "title": "Proportion of genes", "titleFontSize": 13.5, "titleFontWeight": "normal", "titlePadding": 5}},
                  "color": {"field": "sample", "type": "nominal", "scale": {"domain": ["shLuc ESC", "shKdm5b ESC"], "range": ["#000000", "#d4202a"]}, "legend": null}}},
    {"data": {"values": [{}]}, "mark": {"type": "rect", "fill": "#000000", "stroke": "#000000", "strokeWidth": 1}, "encoding": {"x": {"datum": -3.46}, "x2": {"datum": -1.89}, "y": {"datum": 0.21}, "y2": {"datum": 0.154}}},
    {"data": {"values": [{}]}, "mark": {"type": "rect", "fill": "#e21e26", "stroke": "#4a0000", "strokeWidth": 1}, "encoding": {"x": {"datum": -3.46}, "x2": {"datum": -1.89}, "y": {"datum": 0.105}, "y2": {"datum": 0.049}}},
    {"data": {"values": [{}]}, "mark": {"type": "text", "text": "shLuc ESC", "fontSize": 11.3, "align": "left", "baseline": "middle"}, "encoding": {"x": {"datum": -1.07}, "y": {"datum": 0.182}}},
    {"data": {"values": [{}]}, "mark": {"type": "text", "text": "shKdm5b ESC", "fontSize": 11.3, "align": "left", "baseline": "middle"}, "encoding": {"x": {"datum": -1.07}, "y": {"datum": 0.077}}},
    {"data": {"values": [{}]}, "mark": {"type": "text", "text": "H3K4me2", "fontSize": 13, "align": "center", "baseline": "middle"}, "encoding": {"x": {"datum": -3.83}, "y": {"datum": 1.114}}}
   ]},
  {"width": 176.7, "height": 153.5, "view": {"stroke": "black", "strokeWidth": 1},
   "layer": [
    {"data": {"values": [{}]}, "mark": {"type": "rule", "color": "#9a9a9a", "strokeDash": [6,2,1,2], "strokeWidth": 0.8}, "encoding": {"y": {"datum": 0}}},
    {"data": {"values": [{}]}, "mark": {"type": "rule", "color": "#9a9a9a", "strokeDash": [6,2,1,2], "strokeWidth": 0.8}, "encoding": {"y": {"datum": 1}}},
    {"data": {"name": "b_cdf"}, "transform": [{"filter": "datum.panel == 'H3K4me1'"}], "mark": {"type": "line", "strokeWidth": 1.2, "interpolate": "monotone"},
     "encoding": {"x": {"field": "si", "type": "quantitative", "scale": {"domain": [-3.29, 3.27], "nice": false, "zero": false}, "axis": {"values": [-3,-2,-1,0,1,2,3], "tickCount": 20, "labelExpr": "datum.value == -3 ? '-3' : datum.value == 0 ? '0' : datum.value == 3 ? '3' : ''", "tickSize": 3, "labelPadding": 2, "labelFontSize": 10, "title": "Spreading Index", "titleFontSize": 13.5, "titleFontWeight": "normal", "titlePadding": 2}},
                  "y": {"field": "prop", "type": "quantitative", "scale": {"domain": [-0.042, 1.042], "nice": false, "zero": false}, "axis": {"values": [0,0.2,0.4,0.6,0.8,1], "tickCount": 20, "labelExpr": "datum.value == 0 ? '0' : format(datum.value, '.1f')", "tickSize": 3, "labelPadding": 2, "labelFontSize": 10, "title": "Proportion of genes", "titleFontSize": 13.5, "titleFontWeight": "normal", "titlePadding": 5}},
                  "color": {"field": "sample", "type": "nominal", "scale": {"domain": ["shLuc ESC", "shKdm5b ESC"], "range": ["#000000", "#d4202a"]}, "legend": null}}},
    {"data": {"values": [{}]}, "mark": {"type": "rect", "fill": "#000000", "stroke": "#000000", "strokeWidth": 1}, "encoding": {"x": {"datum": -0.49}, "x2": {"datum": -0.02}, "y": {"datum": 0.213}, "y2": {"datum": 0.156}}},
    {"data": {"values": [{}]}, "mark": {"type": "rect", "fill": "#e21e26", "stroke": "#4a0000", "strokeWidth": 1}, "encoding": {"x": {"datum": -0.49}, "x2": {"datum": -0.02}, "y": {"datum": 0.113}, "y2": {"datum": 0.054}}},
    {"data": {"values": [{}]}, "mark": {"type": "text", "text": "shLuc ESC", "fontSize": 11.3, "align": "left", "baseline": "middle"}, "encoding": {"x": {"datum": 0.22}, "y": {"datum": 0.184}}},
    {"data": {"values": [{}]}, "mark": {"type": "text", "text": "shKdm5b ESC", "fontSize": 11.3, "align": "left", "baseline": "middle"}, "encoding": {"x": {"datum": 0.22}, "y": {"datum": 0.085}}},
    {"data": {"values": [{}]}, "mark": {"type": "text", "text": "H3K4me1", "fontSize": 13, "align": "center", "baseline": "middle"}, "encoding": {"x": {"datum": -0.61}, "y": {"datum": 1.135}}}
   ]}
 ]}
]
}
